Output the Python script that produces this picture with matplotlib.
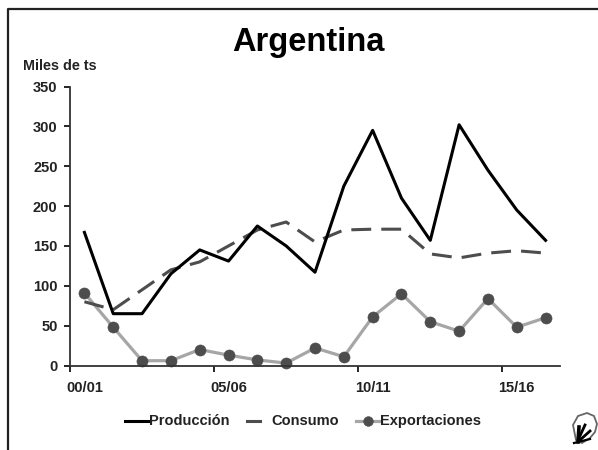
import matplotlib
matplotlib.use("Agg")
import matplotlib.pyplot as plt
from matplotlib.lines import Line2D
from matplotlib.patches import Polygon

seasons = ["00/01", "01/02", "02/03", "03/04", "04/05", "05/06", "06/07", "07/08", "08/09",
           "09/10", "10/11", "11/12", "12/13", "13/14", "14/15", "15/16", "16/17"]
produccion = [167, 65, 65, 115, 145, 131, 175, 150, 117, 225, 295, 210, 157, 302, 245, 195, 157]
consumo = [80, 70, 95, 120, 130, 150, 170, 180, 155, 170, 171, 171, 140, 135, 141, 144, 141]
exportaciones = [91, 48, 6, 6, 20, 13, 7, 3, 22, 11, 61, 90, 55, 43, 84, 48, 60]
y_ticks = [0, 50, 100, 150, 200, 250, 300, 350]

W, H = 598, 450
plt.rcParams["font.family"] = ["Liberation Sans", "DejaVu Sans"]
plt.rcParams["font.weight"] = "bold"

fig = plt.figure(figsize=(W / 100, H / 100), dpi=100)
ax = fig.add_axes([70 / W, 1 - 365.5 / H, 490 / W, 279 / H])

x = list(range(len(seasons)))
ax.plot(x, exportaciones, color="#a6a6a6", lw=2.3, marker="o", ms=8, mew=0.4,
        mfc="#4d4d4d", mec="#4d4d4d", zorder=2, clip_on=False)
ax.plot(x, consumo, color="#4d4d4d", lw=2.2, dashes=(6.5, 3.3), zorder=3)
ax.plot(x, produccion, color="black", lw=2.2, zorder=4)

ax.set_xlim(-0.5, len(seasons) - 0.5)
ax.set_ylim(0, 350)
ax.set_yticks(y_ticks)
# ticks sit between seasons, labels are centred on the season itself
ax.set_xticks([i - 0.5 for i in x[::5]])
ax.set_xticklabels([])
ax.set_xticks(x[::5], seasons[::5], minor=True)
ax.tick_params(axis="x", which="major", direction="out", length=4, width=1.2)
ax.tick_params(axis="x", which="minor", length=0, pad=11.5, labelsize=10.5, labelcolor="#222222")
ax.tick_params(axis="y", direction="out", length=4, width=1.2, pad=5, labelsize=10.5, labelcolor="#222222")
for s in ["top", "right"]:
    ax.spines[s].set_visible(False)
for s in ["left", "bottom"]:
    ax.spines[s].set_linewidth(1.3)
    ax.spines[s].set_color("#333333")

fig.text(308.5 / W, 1 - 42 / H, "Argentina", ha="center", va="center", fontsize=23.5, color="black")
fig.text(23 / W, 1 - 65.5 / H, "Miles de ts", ha="left", va="center", fontsize=10.4, color="#222222")

# frame of the original slide, only left and top
fig.add_artist(Line2D([7.5 / W, 7.5 / W, 1], [0, 1 - 8.5 / H, 1 - 8.5 / H], color="#222222", lw=1.6))

# legend built by hand to keep the tight spacing of the original
legend_y = 1 - 420.5 / H
text_y = 1 - 421 / H
fig.add_artist(Line2D([125 / W, 148 / W], [legend_y, legend_y], color="black", lw=2.2))
fig.text(149 / W, text_y, "Producción", va="center", fontsize=10.5, color="#222222")
fig.add_artist(Line2D([247 / W, 260 / W], [legend_y, legend_y], color="#4d4d4d", lw=2.2))
fig.text(271 / W, text_y, "Consumo", va="center", fontsize=10.5, color="#222222")
fig.add_artist(Line2D([356 / W, 379 / W], [legend_y, legend_y], color="#a6a6a6", lw=2.3))
fig.add_artist(Line2D([367.5 / W], [legend_y], color="#4d4d4d", marker="o", ms=7, mew=0.4))
fig.text(380 / W, text_y, "Exportaciones", va="center", fontsize=10.5, color="#222222")

# small cotton icon, bottom right
boll = [(573, 425), (578, 416), (587, 413), (594, 416), (597, 424), (595, 432), (590, 438), (582, 443), (576, 440)]
fig.add_artist(Polygon([(a / W, 1 - b / H) for a, b in boll], closed=True, transform=fig.transFigure,
                       fc="white", ec="#666666", lw=1.3))
for a, b, lw in [((578, 442), (579, 427), 2.6), ((579, 438), (585, 425), 2), ((580, 440), (590, 431), 2),
                 ((574, 443), (590, 439), 1.6)]:
    fig.add_artist(Line2D([a[0] / W, b[0] / W], [1 - a[1] / H, 1 - b[1] / H], color="black", lw=lw))

fig.savefig("out.png", dpi=100)
